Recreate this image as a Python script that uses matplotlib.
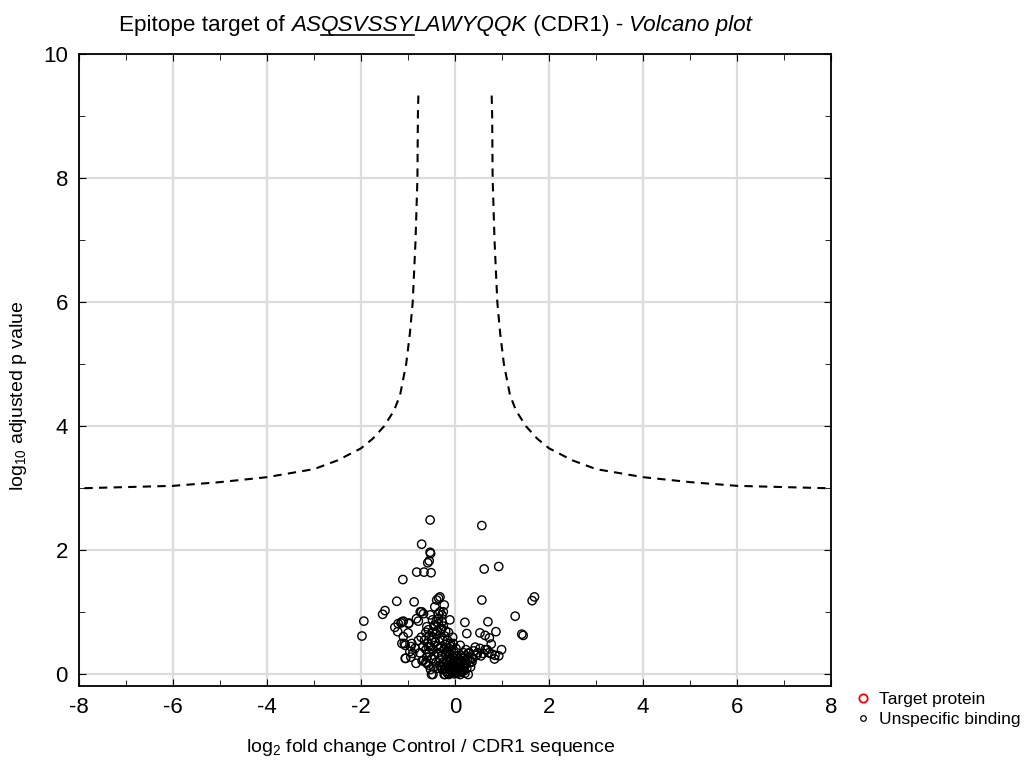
import matplotlib
matplotlib.use("Agg")
import matplotlib.pyplot as plt
from matplotlib.lines import Line2D
import numpy as np

plt.rcParams['font.family'] = ['Liberation Sans', 'DejaVu Sans']
plt.rcParams['mathtext.fontset'] = 'custom'
plt.rcParams['mathtext.rm'] = 'Liberation Sans'
plt.rcParams['mathtext.it'] = 'Liberation Sans:italic'
plt.rcParams['axes.unicode_minus'] = False

# significance threshold curve (positive side, mirrored for negative side)
thr_x = [0.78, 0.79, 0.80, 0.84, 0.90, 0.96, 1.04, 1.17, 1.30, 1.51, 1.75,
         2.0, 2.5, 3.0, 4.0, 5.0, 6.0, 7.0, 8.0]
thr_y = [9.33, 9.0, 8.0, 7.0, 6.0, 5.5, 5.0, 4.5, 4.25, 4.0, 3.8,
         3.645, 3.45, 3.31, 3.18, 3.10, 3.04, 3.02, 3.0]

# target protein (none found)
target_x = []
target_y = []

# unspecific binding
unspec_x = [
    -0.53, 0.57, -0.71, -0.53, -0.52, -0.55, -0.58, -0.815, -0.66, -0.51, 0.62, 0.93,
    -1.11, 0.57, 1.69, 1.64, -1.24, -0.87, -1.49, -1.54, -1.94, -1.98, 1.28, 0.70,
    0.21, 1.42, 1.45, 0.87, 0.53, 0.64, 0.73, 0.77, 0.99, 0.84, 0.93, 0.28,
    -0.47, -0.50, -1.05, -0.83, -1.28, -1.22, -1.15, -1.10, -0.98, -1.10, -1.08, -1.0,
    -0.94, -0.90, -0.94, -0.74, -0.71, -0.82, -0.78, -0.39, -0.32, -0.35, -0.43, -0.32,
    -0.23, -0.28,
    -0.53, -0.355, -0.25, -0.67, -1.21, -1.13, -0.99, -0.60, -0.43, -0.355, -0.28, -0.11,
    0.25, 0.11, 0.43, 0.53, 0.64, 0.78, 0.85, 0.28, 0.35, 0.46, 0.21, 0.18,
    0.32, 0.25, 0.14, -1.13, -1.06, -0.96, -0.92, -0.85, -1.06, -0.67, -0.60, -0.57,
    -0.55, -0.50, -0.48, -0.45, -0.52, -0.47, -0.42, -0.40, -0.38, -0.44, -0.50, -0.55,
    -0.58, -0.62, -0.65, -0.60, -0.40, -0.36, -0.33, -0.30, -0.35, -0.40, -0.45, -0.48,
    -0.38, -0.56, -0.62, -0.70, -0.75, -0.68, -0.72, -0.78, -0.62, -0.57, -0.33, -0.38,
    -0.45, -0.52,
    -0.30, -0.28, -0.26, -0.25, -0.24, -0.22, -0.22, -0.20, -0.20, -0.18, -0.18, -0.17,
    -0.16, -0.15, -0.15, -0.14, -0.13, -0.12, -0.12, -0.11, -0.10, -0.10, -0.09, -0.08,
    -0.08, -0.07, -0.06, -0.06, -0.05, -0.05, -0.04, -0.04, -0.03, -0.02, -0.02, -0.01,
    0.00, 0.00, 0.01, 0.02, 0.03, 0.04, 0.05, 0.06, 0.07, 0.08, 0.09, 0.10,
    0.11, 0.12, 0.13, 0.14, 0.15, 0.16, 0.17, 0.18, 0.19, 0.20, 0.22, 0.23,
    0.24, 0.26, 0.30, 0.33, 0.38, 0.40, 0.36, 0.48, 0.55, 0.60, 0.68, 0.72,
    -0.27, -0.23, -0.30, -0.32, -0.34, -0.28, -0.25, -0.20, -0.16, -0.14, -0.09, -0.04,
    0.02, -0.19, -0.13, -0.07, -0.01, 0.05, 0.06, 0.11, 0.14, 0.19, 0.21, -0.21,
]
unspec_y = [
    2.49, 2.40, 2.10, 1.97, 1.95, 1.83, 1.80, 1.65, 1.65, 1.64, 1.70, 1.74,
    1.53, 1.20, 1.25, 1.19, 1.18, 1.17, 1.03, 0.97, 0.86, 0.62, 0.94, 0.85,
    0.84, 0.65, 0.63, 0.69, 0.67, 0.63, 0.59, 0.49, 0.40, 0.25, 0.30, 0.00,
    0.00, 0.00, 0.26, 0.18, 0.76, 0.69, 0.83, 0.86, 0.83, 0.61, 0.50, 0.67,
    0.45, 0.34, 0.28, 1.01, 1.01, 0.90, 0.86, 1.20, 1.25, 1.23, 1.09, 1.01,
    1.12, 0.96,
    0.96, 0.98, 1.01, 0.98, 0.82, 0.85, 0.82, 0.77, 0.80, 0.82, 0.74, 0.88,
    0.66, 0.47, 0.44, 0.42, 0.40, 0.33, 0.31, 0.34, 0.28, 0.31, 0.23, 0.15,
    0.20, 0.10, 0.07, 0.50, 0.47, 0.37, 0.50, 0.42, 0.26, 0.23, 0.18, 0.45,
    0.62, 0.55, 0.68, 0.60, 0.45, 0.40, 0.52, 0.66, 0.45, 0.30, 0.25, 0.35,
    0.50, 0.40, 0.55, 0.28, 0.20, 0.35, 0.58, 0.72, 0.90, 0.85, 0.78, 0.88,
    0.70, 0.15, 0.20, 0.22, 0.35, 0.45, 0.60, 0.55, 0.68, 0.72, 0.15, 0.10,
    0.12, 0.08,
    0.45, 0.30, 0.55, 0.20, 0.40, 0.62, 0.10, 0.32, 0.48, 0.22, 0.05, 0.38,
    0.55, 0.15, 0.28, 0.68, 0.42, 0.08, 0.20, 0.33, 0.50, 0.02, 0.14, 0.25,
    0.40, 0.06, 0.18, 0.30, 0.60, 0.10, 0.03, 0.22, 0.15, 0.08, 0.35, 0.01,
    0.12, 0.05, 0.20, 0.03, 0.10, 0.06, 0.16, 0.02, 0.09, 0.25, 0.13, 0.05,
    0.18, 0.10, 0.30, 0.22, 0.14, 0.06, 0.26, 0.35, 0.19, 0.12, 0.30, 0.40,
    0.17, 0.25, 0.35, 0.12, 0.26, 0.38, 0.20, 0.35, 0.30, 0.34, 0.40, 0.35,
    0.08, 0.00, 0.12, 0.25, 0.42, 0.85, 0.78, 0.70, 0.02, 0.35, 0.45, 0.50,
    0.42, 0.12, 0.00, 0.16, 0.26, 0.30, 0.08, 0.00, 0.04, 0.06, 0.02, 0.00,
]

# title pieces: (text, italic, underlined)
title_parts = [("Epitope target of ", False, False), ("AS", True, False),
               ("QSVSSY", True, True), ("LAWYQQK", True, False),
               (" (CDR1) - ", False, False), ("Volcano plot", True, False)]

fig = plt.figure(figsize=(10.26, 7.6), dpi=100)
ax = fig.add_axes([0.077, 0.097, 0.733, 0.832])

tx = np.array(thr_x)
ty = np.array(thr_y)
ax.plot(tx, ty, color='black', lw=1.5, ls=(0, (4, 3)), zorder=3)
ax.plot(-tx, ty, color='black', lw=1.5, ls=(0, (4, 3)), zorder=3)

ax.scatter(unspec_x, unspec_y, s=36, facecolors='none', edgecolors='black',
           linewidths=1.0, zorder=4)
ax.scatter(target_x, target_y, s=40, facecolors='none', edgecolors='red',
           linewidths=1.2, zorder=5)

ax.set_xlim(-8, 8)
ax.set_ylim(-0.19, 10)
ax.set_xticks(np.arange(-8, 9, 2))
ax.set_xticks(np.arange(-8, 9, 1), minor=True)
ax.set_yticks(np.arange(0, 11, 2))
ax.set_yticks(np.arange(0, 11, 1), minor=True)
ax.grid(True, which='major', color='#dcdcdc', lw=1.6)
ax.set_axisbelow(True)
ax.tick_params(which='both', direction='in', top=True, right=True,
               labelsize=16, pad=8)
ax.tick_params(which='major', length=5)
ax.tick_params(which='minor', length=4)
for sp in ax.spines.values():
    sp.set_linewidth(1.3)

ax.set_xlabel(r'log$_{2}$ fold change Control / CDR1 sequence', fontsize=14)
ax.xaxis.set_label_coords(0.467, -0.08)
ax.set_ylabel(r'log$_{10}$ adjusted p value', fontsize=14)
ax.yaxis.set_label_coords(-0.066, 0.46)

# title built piece by piece so part of it can be underlined
renderer = fig.canvas.get_renderer()
x_px = 119.0
base_y = 1 - 31 / 760
W = fig.bbox.width
for txt, ital, under in title_parts:
    t = fig.text(x_px / W, base_y, txt, fontsize=16.2, va='baseline', ha='left',
                 style='italic' if ital else 'normal')
    bb = t.get_window_extent(renderer)
    if under:
        uy = base_y - 4 / 760
        fig.add_artist(Line2D([bb.x0 / W, bb.x1 / W], [uy, uy], color='black',
                              lw=1.2, transform=fig.transFigure))
    x_px = bb.x1

handles = [
    Line2D([], [], ls='none', marker='o', ms=6, mfc='none', mec='red', mew=1.3),
    Line2D([], [], ls='none', marker='o', ms=4, mfc='none', mec='black', mew=0.9),
]
fig.legend(handles, ['Target protein', 'Unspecific binding'], loc='upper left',
           bbox_to_anchor=(0.826, 0.101), frameon=False, fontsize=12.5,
           handlelength=0.8, handletextpad=0.5, borderpad=0, labelspacing=0.3)

fig.savefig('out.png', dpi=100)
